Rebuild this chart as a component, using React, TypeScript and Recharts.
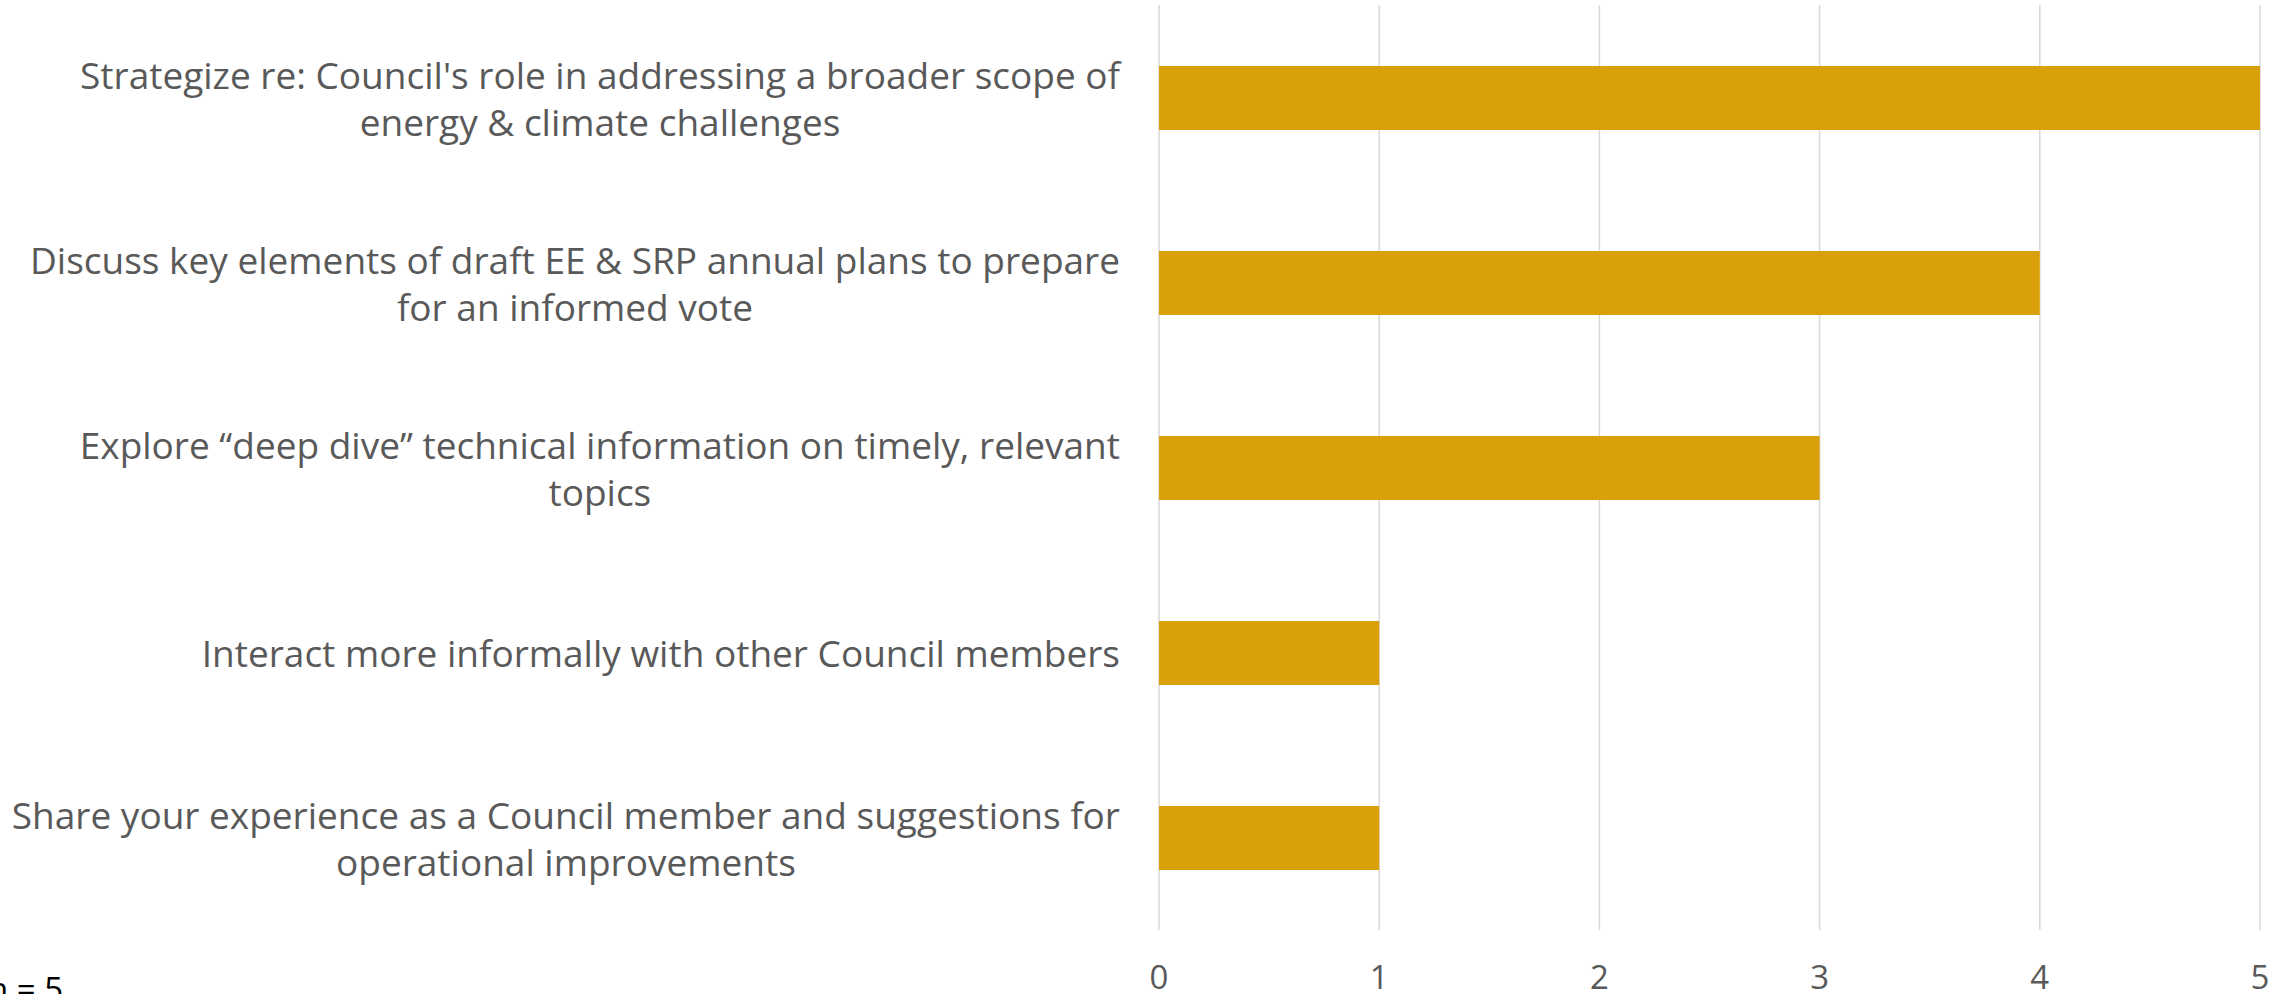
import React from "react";
import { BarChart, Bar, XAxis, YAxis, CartesianGrid } from "recharts";

const categories: string[][] = [
  ["Strategize re: Council's role in addressing a broader scope of", "energy & climate challenges"],
  ["Discuss key elements of draft EE & SRP annual plans to prepare", "for an informed vote"],
  ["Explore \u201cdeep dive\u201d technical information on timely, relevant", "topics"],
  ["Interact more informally with other Council members"],
  ["Share your experience as a Council member and suggestions for", "operational improvements"],
];
const values: number[] = [5, 4, 3, 1, 1];
const xTicks: number[] = [0, 1, 2, 3, 4, 5];
const noteText = "n = 5";

const FONT = "'Open Sans', sans-serif";
const FS = 37;
const TICK_FS = 33;
const TEXT_COLOR = "#595959";
const BAR_COLOR = "#DAA00C";
const GRID_COLOR = "#D9D9D9";

const data = categories.map((lines, i) => ({ key: String(i), value: values[i] }));

let measureCtx: CanvasRenderingContext2D | null = null;
function measure(s: string): number {
  if (!measureCtx) {
    const c = document.createElement("canvas");
    measureCtx = c.getContext("2d");
  }
  if (!measureCtx) return s.length * FS * 0.5;
  measureCtx.font = `${FS}px "Open Sans"`;
  return measureCtx.measureText(s).width;
}

const CategoryTick = (props: any) => {
  const { x, y, payload } = props;
  const lines = categories[Number(payload.value)] || [];
  const maxW = Math.max(...lines.map(measure));
  const cx = x - maxW / 2;
  const lh = 47;
  const start = y - ((lines.length - 1) * lh) / 2;
  return (
    <g>
      {lines.map((ln, i) => (
        <text
          key={i}
          x={cx}
          y={start + i * lh}
          textAnchor="middle"
          dominantBaseline="central"
          fontFamily={FONT}
          fontSize={FS}
          fill={TEXT_COLOR}
        >
          {ln}
        </text>
      ))}
    </g>
  );
};

const NumberTick = (props: any) => {
  const { x, y, payload } = props;
  return (
    <text
      x={x}
      y={y}
      textAnchor="middle"
      dominantBaseline="central"
      fontFamily={FONT}
      fontSize={TICK_FS}
      fill={TEXT_COLOR}
    >
      {payload.value}
    </text>
  );
};

export default function App() {
  return (
    <div style={{ position: "absolute", left: 0, top: 0, width: 2292, height: 994, overflow: "hidden", background: "#fff" }}>
      <BarChart
        width={2292}
        height={994}
        data={data}
        layout="vertical"
        margin={{ top: 5, right: 32, bottom: 0, left: 0 }}
      >
        <CartesianGrid horizontal={false} stroke={GRID_COLOR} strokeWidth={1.5} />
        <XAxis
          type="number"
          domain={[0, 5]}
          ticks={xTicks}
          axisLine={false}
          tickLine={false}
          tickSize={0}
          height={64}
          tickMargin={46}
          tick={<NumberTick />}
          interval={0}
        />
        <YAxis
          type="category"
          dataKey="key"
          width={1159}
          axisLine={false}
          tickLine={false}
          tickSize={0}
          tickMargin={39}
          tick={<CategoryTick />}
          interval={0}
        />
        <Bar dataKey="value" fill={BAR_COLOR} barSize={64} isAnimationActive={false} />
      </BarChart>
      <div
        style={{
          position: "absolute",
          left: -12,
          top: 966,
          fontFamily: FONT,
          fontSize: 33,
          color: "#000",
          lineHeight: "45px",
          whiteSpace: "pre",
        }}
      >
        {noteText}
      </div>
    </div>
  );
}
